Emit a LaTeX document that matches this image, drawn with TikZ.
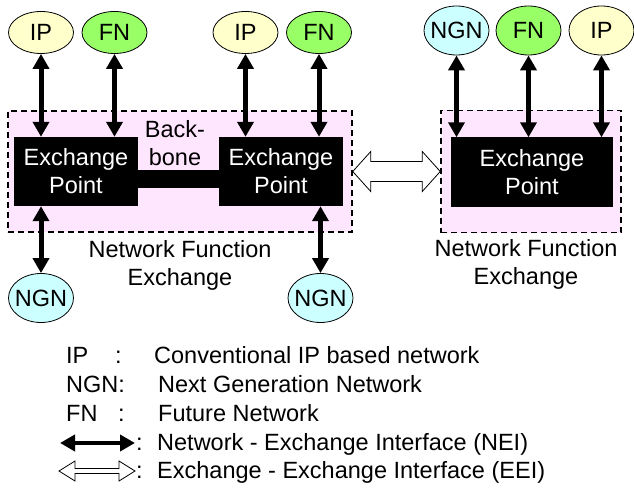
\documentclass[tikz,border=0pt]{standalone}
\usepackage{fontspec}
\setmainfont{Liberation Sans}
\usetikzlibrary{arrows.meta,calc,shapes.geometric}
\definecolor{ipc}{HTML}{FFFFCC}
\definecolor{fnc}{HTML}{99FF66}
\definecolor{ngnc}{HTML}{CCFFFF}
\definecolor{regc}{HTML}{FFE6FF}
\begin{document}
\begin{tikzpicture}[x=1pt,y=-1pt,
  every node/.style={font=\fontsize{23.5}{28}\selectfont},
  net/.style={ellipse,draw,line width=0.8pt,inner sep=0pt,minimum width=65pt},
  smallnet/.style={minimum height=42pt},
  tallnet/.style={minimum height=49pt},
  region/.style={draw,dash pattern=on 6pt off 4pt,line width=1.5pt,fill=regc,inner sep=0pt},
  epbox/.style={fill=black,text=white,align=center,inner sep=0pt,minimum height=69pt},
  txt/.style={inner sep=0pt,align=center},
  leg/.style={anchor=base west,inner sep=0pt},
  nei/.style={line width=5pt,{Triangle[length=15pt,width=16pt]}-{Triangle[length=15pt,width=16pt]}},
  legnei/.style={line width=4.5pt,{Triangle[length=15pt,width=16pt]}-{Triangle[length=15pt,width=16pt]}},
  eei/.style={draw,line width=0.8pt,fill=white,line join=miter},
]
\useasboundingbox (0,0) rectangle (634,489);

% regions
\node[region,minimum width=344pt,minimum height=121pt] (reg1) at (180,171.5) {};
\node[region,minimum width=180pt,minimum height=122pt] (reg2) at (531,171.5) {};

% backbone
\node[fill=black,inner sep=0pt,minimum width=83pt,minimum height=18pt] (bb) at (178.5,179) {};
\node[txt,anchor=north] (bbl) at (175,120) {Back-\\bone};

% exchange points
\node[epbox,minimum width=124pt] (ep1) at (76,171.5) {Exchange\\Point};
\node[epbox,minimum width=124pt] (ep2) at (281,171.5) {Exchange\\Point};
\node[epbox,minimum width=162pt] (ep3) at (532,172) {Exchange\\Point};

% networks
\node[net,smallnet,fill=ipc] (ip1) at (41,32.5) {\makebox[0pt]{IP}};
\node[net,smallnet,fill=fnc] (fn1) at (114.5,32.5) {\makebox[0pt]{FN}};
\node[net,smallnet,fill=ipc] (ip2) at (245.5,32.5) {\makebox[0pt]{IP}};
\node[net,smallnet,fill=fnc] (fn2) at (319,32.5) {\makebox[0pt]{FN}};
\node[net,tallnet,fill=ngnc] (ngn3) at (456.5,30.5) {\makebox[0pt]{NGN}};
\node[net,tallnet,fill=fnc] (fn3) at (528.5,30.5) {\makebox[0pt]{FN}};
\node[net,tallnet,fill=ipc] (ip3) at (601.5,30.5) {\makebox[0pt]{IP}};
\node[net,tallnet,fill=ngnc] (ngn1) at (41,298) {\makebox[0pt]{NGN}};
\node[net,tallnet,fill=ngnc] (ngn2) at (320.5,298) {\makebox[0pt]{NGN}};

% NEI connectors
\draw[nei] (ip1) -- (ip1 |- ep1.north);
\draw[nei] (fn1) -- (fn1 |- ep1.north);
\draw[nei] (ip2) -- (ip2 |- ep2.north);
\draw[nei] (fn2) -- (fn2 |- ep2.north);
\draw[nei] (ngn3) -- (ngn3 |- ep3.north);
\draw[nei] (fn3) -- (fn3 |- ep3.north);
\draw[nei] (ip3) -- (ip3 |- ep3.north);
\draw[nei] (ngn1) -- (ngn1 |- ep1.south);
\draw[nei] (ngn2) -- (ngn2 |- ep2.south);

% EEI connector
\coordinate (e1) at (reg1.east);
\coordinate (e2) at (reg2.west);
\draw[eei] (e1) -- ($(e1)+(18,-20)$) -- ($(e1)+(18,-10)$) -- ($(e2)+(-18,-10)$)
  -- ($(e2)+(-18,-20)$) -- (e2) -- ($(e2)+(-18,20)$) -- ($(e2)+(-18,10)$)
  -- ($(e1)+(18,10)$) -- ($(e1)+(18,20)$) -- cycle;

% labels
\node[txt,anchor=north] (lab1) at ([yshift=-8pt]reg1.south) {Network Function\\Exchange};
\node[txt,anchor=north] (lab2) at ([xshift=-5pt,yshift=-6pt]reg2.south) {Network Function\\Exchange};

% legend
\node[leg] (l1a) at (66,363) {IP};
\node[leg] (l1b) at (115,363) {:};
\node[leg] (l1c) at (154,363) {Conventional IP based network};
\node[leg] (l2a) at (66,392) {NGN:};
\node[leg] (l2c) at (158,392) {Next Generation Network};
\node[leg] (l3a) at (66,421) {FN};
\node[leg] (l3b) at (118,421) {:};
\node[leg] (l3c) at (158,421) {Future Network};
\coordinate (a4l) at (60,443);
\coordinate (a4r) at (135,443);
\draw[legnei] (a4l) -- (a4r);
\node[leg] (l4b) at (136,450) {:};
\node[leg] (l4c) at (157,450) {Network - Exchange Interface (NEI)};
\coordinate (a5l) at (59,471);
\coordinate (a5r) at (135,471);
\draw[eei] (a5l) -- ($(a5l)+(16,-10)$) -- ($(a5l)+(16,-2.5)$) -- ($(a5r)+(-16,-2.5)$)
  -- ($(a5r)+(-16,-10)$) -- (a5r) -- ($(a5r)+(-16,10)$) -- ($(a5r)+(-16,2.5)$)
  -- ($(a5l)+(16,2.5)$) -- ($(a5l)+(16,10)$) -- cycle;
\node[leg] (l5b) at (136,478) {:};
\node[leg] (l5c) at (157,478) {Exchange - Exchange Interface (EEI)};
\end{tikzpicture}
\end{document}
